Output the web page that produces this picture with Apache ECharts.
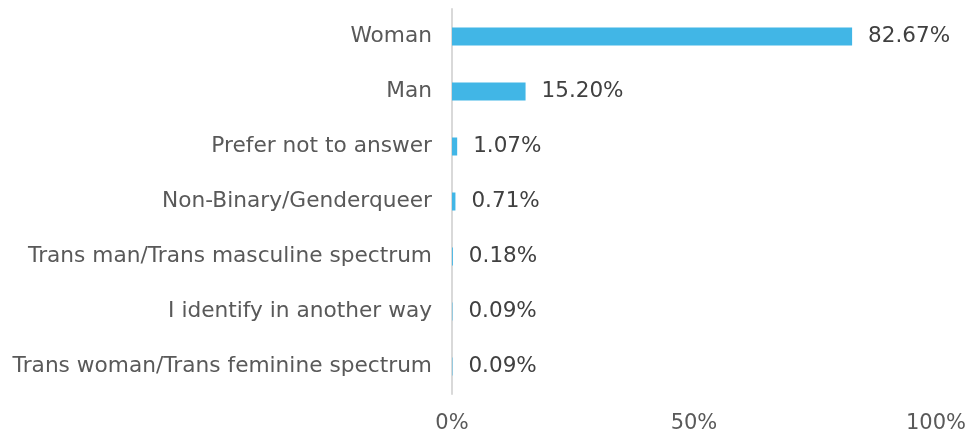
<!DOCTYPE html>
<html>
<head>
<meta charset="utf-8">
<script src="https://cdn.jsdelivr.net/npm/echarts@6/dist/echarts.min.js"></script>
<style>
  html, body { margin: 0; padding: 0; background: #fff; }
  #chart { width: 969px; height: 434px; }
</style>
</head>
<body>
<div id="chart"></div>
<script>
// categories from top to bottom
const categories = [
  'Woman',
  'Man',
  'Prefer not to answer',
  'Non-Binary/Genderqueer',
  'Trans man/Trans masculine spectrum',
  'I identify in another way',
  'Trans woman/Trans feminine spectrum'
]
const percents = [82.67, 15.20, 1.07, 0.71, 0.18, 0.09, 0.09]
const xTicks = [0, 50, 100]

const chart = echarts.init(document.getElementById('chart'))
const font = 'DejaVu Sans, Verdana, sans-serif'

const option = {
  animation: false,
  grid: {
    left: 452,
    right: 32,
    top: 9,
    bottom: 40
  },
  xAxis: {
    type: 'value',
    min: 0,
    max: 100,
    interval: 50,
    splitLine: { show: false },
    axisLine: { show: false },
    axisTick: { show: false },
    axisLabel: {
      color: '#595959',
      fontFamily: font,
      fontSize: 21,
      margin: 19,
      formatter: v => xTicks.includes(v) ? v + '%' : ''
    }
  },
  yAxis: {
    type: 'category',
    inverse: true,
    data: categories,
    axisLine: { show: true, lineStyle: { color: '#d9d9d9', width: 2 } },
    axisTick: { show: false },
    axisLabel: {
      color: '#595959',
      fontFamily: font,
      fontSize: 21.7,
      margin: 20
    }
  },
  series: [
    {
      type: 'bar',
      data: percents,
      barWidth: 18,
      itemStyle: { color: '#41b6e6' },
      label: {
        show: true,
        position: 'right',
        distance: 16,
        color: '#404040',
        fontFamily: font,
        fontSize: 21.5,
        formatter: p => p.value.toFixed(2) + '%'
      }
    }
  ]
}
chart.setOption(option)
</script>
</body>
</html>
